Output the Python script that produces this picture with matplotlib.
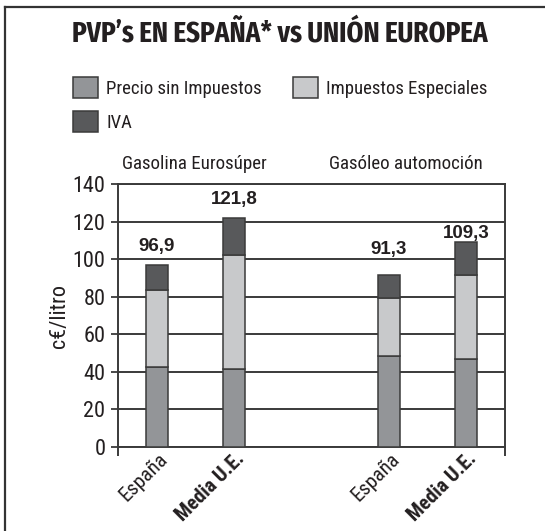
import matplotlib
matplotlib.use("Agg")
import matplotlib.pyplot as plt
from matplotlib import font_manager
from matplotlib.transforms import ScaledTranslation
import numpy as np

# ---- data ----
categories = ["España", "Media U.E.", "España", "Media U.E."]
groups = ["Gasolina Eurosúper", "Gasóleo automoción"]
precio_sin_impuestos = [42.4, 41.3, 48.6, 46.8]
impuestos_especiales = [41.2, 60.9, 30.9, 44.7]
iva = [13.3, 19.6, 11.8, 17.8]
totales = [96.9, 121.8, 91.3, 109.3]
total_labels = ["96,9", "121,8", "91,3", "109,3"]
series_names = ["Precio sin Impuestos", "Impuestos Especiales", "IVA"]
yticks = [0, 20, 40, 60, 80, 100, 120, 140]
title = "PVP’s EN ESPAÑA* vs UNIÓN EUROPEA"
ylabel = "c€/litro"

# ---- style ----
W, H = 545, 531
available = {f.name for f in font_manager.fontManager.ttflist}
cands = ["Roboto Condensed", "Archivo Narrow", "PT Sans Narrow", "Asap Condensed",
         "Barlow Semi Condensed", "Fira Sans Condensed", "Liberation Sans"]
COND = next(c for c in cands if c in available)
tcands = ["Fira Sans Extra Condensed", "Barlow Condensed", COND]
TCOND = next(c for c in tcands if c in available)
NARROW = [COND, "DejaVu Sans"]
TXT = "#231f20"
col_precio = "#939598"
col_imp = "#c8c9cb"
col_iva = "#58595b"
edge = "#3a3a3a"
grid_c = "#3a3a3a"

plt.rcParams["font.family"] = NARROW

fig = plt.figure(figsize=(W / 100, H / 100), dpi=100)

def fx(x):
    return x / W

def fy(y):
    return 1 - y / H

# axes
left, right, top, bottom = 118, 504.5, 184, 447
ax = fig.add_axes([fx(left), fy(bottom), (right - left) / W, (bottom - top) / H])

x = np.array([1, 2, 4, 5], dtype=float)
bw = 0.285
b1 = ax.bar(x, precio_sin_impuestos, bw, color=col_precio, edgecolor=edge, linewidth=1.1, zorder=3)
b2 = ax.bar(x, impuestos_especiales, bw, bottom=precio_sin_impuestos, color=col_imp,
            edgecolor=edge, linewidth=1.1, zorder=3)
base3 = np.array(precio_sin_impuestos) + np.array(impuestos_especiales)
b3 = ax.bar(x, iva, bw, bottom=base3, color=col_iva, edgecolor=edge, linewidth=1.1, zorder=3)

ax.set_xlim(0.5, 5.5)
ax.set_ylim(0, 140)
ax.set_yticks(yticks)
ax.set_yticklabels([str(v) for v in yticks], fontsize=16, color=TXT)
ax.yaxis.grid(True, color=grid_c, linewidth=1.4, zorder=0)
ax.set_axisbelow(True)
for s in ["left", "right", "top", "bottom"]:
    ax.spines[s].set_color(grid_c)
    ax.spines[s].set_linewidth(1.4)
ax.tick_params(axis="y", direction="out", length=5, width=1.3, color=grid_c, pad=4)
ax.set_xticks([])
ax.set_xticks([0.5, 5.5], minor=True)
ax.tick_params(axis="x", which="minor", direction="out", length=6.5, width=1.4, color=grid_c)
ax.tick_params(axis="x", which="minor", labelbottom=False)

ax.set_ylabel(ylabel, fontsize=16, color=TXT, labelpad=2)

# value labels
label_offsets = [7.5, 7.5, 12.5, -0.5]
for xi, tot, lab, off in zip(x, totales, total_labels, label_offsets):
    ax.annotate(lab, (xi, tot), xytext=(0, off), textcoords="offset points",
                ha="center", va="bottom", fontsize=13.5, fontweight="bold",
                family=["Liberation Sans", "DejaVu Sans"], color=TXT)

# category labels (rotated)
for i, (xi, cat) in enumerate(zip(x, categories)):
    bold = cat.startswith("Media")
    tr = ax.get_xaxis_transform() + ScaledTranslation(8 / 100, -9 / 100, fig.dpi_scale_trans)
    ax.text(xi, 0, cat, transform=tr, rotation=45, rotation_mode="anchor",
            ha="right", va="center", fontsize=14.8, color=TXT,
            fontweight="bold" if bold else "normal")

# title (fitted to the reference width)
t = fig.text(fx(280), fy(34), title, ha="center", va="center",
             fontsize=24, fontweight="bold", color=TXT, family=[TCOND, "DejaVu Sans"])
r = fig.canvas.get_renderer()
wpx = t.get_window_extent(r).width
t.set_fontsize(24 * 415 / wpx)

# legend
leg = fig.legend([b1, b3, b2], [series_names[0], series_names[2], series_names[1]],
                 ncol=2, loc="upper left", bbox_to_anchor=(fx(73), fy(77)),
                 frameon=False, fontsize=13.5, borderpad=0, borderaxespad=0,
                 handlelength=1.33, handleheight=1.33, handletextpad=0.43,
                 labelspacing=0.72, columnspacing=1.65)
for tt in leg.get_texts():
    tt.set_color(TXT)

# group subtitles
fig.text(fx(194), fy(164), groups[0], ha="center", va="center", fontsize=13.6, color=TXT)
fig.text(fx(406), fy(164), groups[1], ha="center", va="center", fontsize=13.6, color=TXT)

# outer frame (left and top lines)
fig.add_artist(plt.Line2D([fx(5), fx(5)], [0, fy(7)], color="#333333", lw=1.6))
fig.add_artist(plt.Line2D([fx(5), 1], [fy(7), fy(7)], color="#333333", lw=1.6))

fig.savefig("out.png", dpi=100)
